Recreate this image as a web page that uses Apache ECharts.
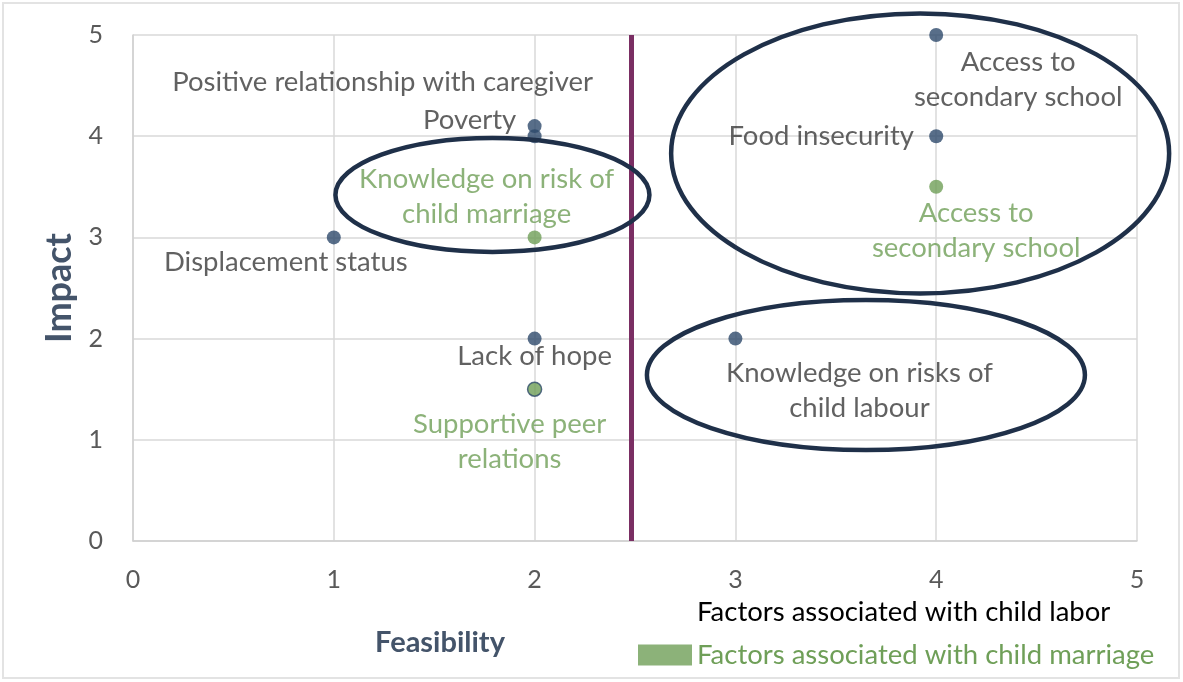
<!DOCTYPE html>
<html>
<head>
<meta charset="utf-8">
<script src="https://cdn.jsdelivr.net/npm/echarts@6/dist/echarts.min.js"></script>
<style>
html,body{margin:0;padding:0;background:#fff;}
#c{width:1183px;height:682px;}
</style>
</head>
<body>
<div id="c"></div>
<script>
// ---- data ----
const laborNames = ['Access to\nsecondary school', 'Food insecurity', 'Poverty', 'Positive relationship with caregiver', 'Displacement status', 'Lack of hope', 'Knowledge on risks of\nchild labour'];
const laborX = [4, 4, 2, 2, 1, 2, 3];
const laborY = [5, 4, 4.1, 4.0, 3, 2, 2];

const marriageNames = ['Knowledge on risk of\nchild marriage', 'Access to\nsecondary school', 'Supportive peer\nrelations'];
const marriageX = [2, 4, 2];
const marriageY = [3, 3.5, 1.5];

const xTicks = [0, 1, 2, 3, 4, 5];
const yTicks = [0, 1, 2, 3, 4, 5];
const dividerX = 2.48;

const seriesNames = ['Factors associated with child labor', 'Factors associated with child marriage'];

// ---- styling (label offsets in px) ----
const laborOffsets = [[82, 45], [-115, 0], [-65, -6], [-152, -54], [-48, 25], [0, 18], [124, 52]];
const marriageOffsets = [[-48, -41], [40, 44], [-25, 52]];

const NAVY = '#2e4a6c';
const GREEN = '#6f9f58';
const FONT = 'Lato';
const LBL = 27.5;

function buildData(xs, ys, names, offsets, color) {
  return xs.map((x, i) => ({
    value: [x, ys[i]],
    name: names[i],
    label: {
      show: true,
      position: 'inside',
      offset: offsets[i],
      formatter: names[i],
      color: color,
      fontFamily: FONT,
      fontSize: LBL,
      lineHeight: 35,
      align: 'center',
      verticalAlign: 'middle'
    }
  }));
}

const laborData = buildData(laborX, laborY, laborNames, laborOffsets, '#3a3a3a');
const marriageData = buildData(marriageX, marriageY, marriageNames, marriageOffsets, GREEN);
// supportive peer relations point has navy outline
marriageData[2].itemStyle = { borderColor: NAVY, borderWidth: 1.5 };

const chart = echarts.init(document.getElementById('c'), null, { renderer: 'canvas' });

const option = {
  animation: false,
  backgroundColor: '#ffffff',
  grid: { left: 133, right: 46, top: 35, bottom: 141, containLabel: false },
  xAxis: {
    type: 'value', min: 0, max: 5, interval: 1,
    axisLine: { show: true, lineStyle: { color: '#d0d0d0', width: 1.5 } },
    axisTick: { show: false },
    splitLine: { show: true, lineStyle: { color: '#d9d9d9', width: 1.5 } },
    axisLabel: { color: '#595959', fontFamily: FONT, fontSize: 25, margin: 26,
      formatter: v => xTicks.includes(v) ? String(v) : '' }
  },
  yAxis: {
    type: 'value', min: 0, max: 5, interval: 1,
    axisLine: { show: true, lineStyle: { color: '#d0d0d0', width: 1.5 } },
    axisTick: { show: false },
    splitLine: { show: true, lineStyle: { color: '#d9d9d9', width: 1.5 } },
    axisLabel: { color: '#595959', fontFamily: FONT, fontSize: 25, margin: 30,
      formatter: v => yTicks.includes(v) ? String(v) : '' },
    name: 'Impact', nameLocation: 'middle', nameGap: 55, nameRotate: 90,
    nameTextStyle: { color: '#44546a', fontFamily: FONT, fontWeight: 'bold', fontSize: 36 }
  },
  legend: {
    orient: 'vertical', left: 638, top: 597, padding: 0,
    itemWidth: 54, itemHeight: 21, itemGap: 13,
    selectedMode: false,
    textStyle: { fontFamily: FONT, fontSize: 27.5, lineHeight: 30 },
    data: [
      { name: seriesNames[0], icon: 'rect', itemStyle: { color: 'rgba(0,0,0,0)', borderWidth: 0 }, textStyle: { color: '#000000' } },
      { name: seriesNames[1], icon: 'rect', itemStyle: { color: GREEN, borderWidth: 0 }, textStyle: { color: GREEN } }
    ]
  },
  series: [
    {
      name: seriesNames[0], type: 'scatter', symbolSize: 14,
      itemStyle: { color: NAVY },
      data: laborData, z: 5
    },
    {
      name: seriesNames[1], type: 'scatter', symbolSize: 14,
      itemStyle: { color: GREEN },
      data: marriageData, z: 5,
      markLine: {
        silent: true, symbol: 'none', label: { show: false },
        lineStyle: { color: '#7a2e63', width: 5, type: 'solid' },
        data: [{ xAxis: dividerX }]
      }
    }
  ],
  graphic: []
};

chart.setOption(option);

// ---- annotation ellipses (centres in data coords, radii in px) ----
const ellipses = [
  { c: [1.79, 3.42], rx: 157, ry: 57 },
  { c: [3.92, 3.83], rx: 249, ry: 140 },
  { c: [3.65, 1.64], rx: 219, ry: 75 }
];
const g = ellipses.map(e => {
  const p = chart.convertToPixel({ gridIndex: 0 }, e.c);
  return { type: 'ellipse', shape: { cx: p[0], cy: p[1], rx: e.rx, ry: e.ry }, style: { fill: null, stroke: '#1f3049', lineWidth: 4.5 }, z: 10, silent: true };
});
g.push({ type: 'rect', shape: { x: 3, y: 3, width: 1176, height: 675 }, style: { fill: null, stroke: '#e3e3e3', lineWidth: 2 }, z: 0, silent: true });
g.push({ type: 'text', x: 440, y: 643, style: { text: 'Feasibility', fill: '#44546a', font: 'bold 29px Lato', textAlign: 'center', textVerticalAlign: 'middle' }, silent: true });
chart.setOption({ graphic: g });
</script>
</body>
</html>
